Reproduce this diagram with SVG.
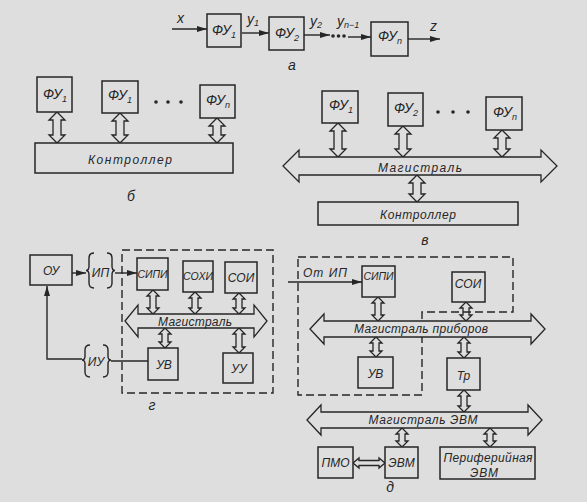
<svg xmlns="http://www.w3.org/2000/svg" width="587" height="502" viewBox="0 0 587 502">
<style>
.bg{fill:#dedede}
.box{fill:#dedede;stroke:#262626;stroke-width:1.5}
.dbl{fill:#dedede;stroke:#262626;stroke-width:1.3;stroke-linejoin:miter}
.ln{fill:none;stroke:#262626;stroke-width:1.4}
.dash{fill:none;stroke:#262626;stroke-width:1.4;stroke-dasharray:8 4}
text{font-family:"Liberation Sans",Arial,sans-serif;font-style:italic;fill:#262626;font-size:12px}
.c{text-anchor:middle}
.fu{font-size:14px}
.lab{font-size:14px}
.sm{font-size:10.5px}
</style>
<defs>
<marker id="ah" viewBox="0 0 10 6" refX="10" refY="3" markerWidth="10" markerHeight="6" markerUnits="userSpaceOnUse" orient="auto">
<path d="M0,0 L10,3 L0,6 Z" fill="#262626"/>
</marker>
</defs>
<rect class="bg" x="0" y="0" width="587" height="502"/>

<g id="connectors">
<!-- part a -->
<line class="ln" x1="172" y1="29" x2="207" y2="29" marker-end="url(#ah)"/>
<line class="ln" x1="242" y1="33" x2="269" y2="33" marker-end="url(#ah)"/>
<line class="ln" x1="304" y1="35" x2="330" y2="35" marker-end="url(#ah)"/>
<line class="ln" x1="348" y1="37" x2="371" y2="37" marker-end="url(#ah)"/>
<line class="ln" x1="408" y1="39" x2="440" y2="39" marker-end="url(#ah)"/>
<!-- part b -->
<path class="dbl" d="M57,112 L65,120 L61,120 L61,135 L65,135 L57,143 L49,135 L53,135 L53,120 L49,120 Z"/>
<path class="dbl" d="M120,113 L128,121 L124,121 L124,135 L128,135 L120,143 L112,135 L116,135 L116,121 L112,121 Z"/>
<path class="dbl" d="M217,118 L225,126 L221,126 L221,135 L225,135 L217,143 L209,135 L213,135 L213,126 L209,126 Z"/>
<!-- part v -->
<path class="dbl" d="M338,123 L346,131 L342,131 L342,149 L346,149 L338,157 L330,149 L334,149 L334,131 L330,131 Z"/>
<path class="dbl" d="M403,126 L411,134 L407,134 L407,149 L411,149 L403,157 L395,149 L399,149 L399,134 L395,134 Z"/>
<path class="dbl" d="M502,130 L510,138 L506,138 L506,149 L510,149 L502,157 L494,149 L498,149 L498,138 L494,138 Z"/>
<path class="dbl" d="M417,175 L425,183 L421,183 L421,194 L425,194 L417,202 L409,194 L413,194 L413,183 L409,183 Z"/>
<!-- part g -->
<line class="ln" x1="72" y1="273" x2="86" y2="273" marker-end="url(#ah)"/>
<line class="ln" x1="115" y1="273" x2="137" y2="273" marker-end="url(#ah)"/>
<path class="ln" d="M94,253 Q89,253 89,258 L89,266 Q89,270.5 86,270.5 Q89,270.5 89,275 L89,283 Q89,288 94,288"/>
<path class="ln" d="M107,253 Q112,253 112,258 L112,266 Q112,270.5 115,270.5 Q112,270.5 112,275 L112,283 Q112,288 107,288"/>
<path class="ln" d="M90,345 Q85,345 85,350 L85,356 Q85,360 82,360 Q85,360 85,364 L85,372 Q85,377 90,377"/>
<path class="ln" d="M103,345 Q108,345 108,350 L108,356 Q108,360 111,360 Q108,360 108,364 L108,372 Q108,377 103,377"/>
<line class="ln" x1="148" y1="361" x2="111" y2="361"/>
<polyline class="ln" points="82,359 47,359 47,286" marker-end="url(#ah)"/>
<path class="dbl" d="M153,290 L159,296 L156,296 L156,308 L159,308 L153,314 L147,308 L150,308 L150,296 L147,296 Z"/>
<path class="dbl" d="M195,292 L201,298 L198,298 L198,308 L201,308 L195,314 L189,308 L192,308 L192,298 L189,298 Z"/>
<path class="dbl" d="M239,293 L245,299 L242,299 L242,308 L245,308 L239,314 L233,308 L236,308 L236,299 L233,299 Z"/>
<path class="dbl" d="M165,328 L171,334 L168,334 L168,342 L171,342 L165,348 L159,342 L162,342 L162,334 L159,334 Z"/>
<path class="dbl" d="M239,328 L245,334 L242,334 L242,347 L245,347 L239,353 L233,347 L236,347 L236,334 L233,334 Z"/>
<!-- part d -->
<line class="ln" x1="288" y1="282" x2="362" y2="282" marker-end="url(#ah)"/>
<path class="dbl" d="M378,297 L384,303 L381,303 L381,315 L384,315 L378,321 L372,315 L375,315 L375,303 L372,303 Z"/>
<path class="dbl" d="M466,302 L472,308 L469,308 L469,315 L472,315 L466,321 L460,315 L463,315 L463,308 L460,308 Z"/>
<path class="dbl" d="M376,337 L382,343 L379,343 L379,351 L382,351 L376,357 L370,351 L373,351 L373,343 L370,343 Z"/>
<path class="dbl" d="M464,337 L470,343 L467,343 L467,352 L470,352 L464,358 L458,352 L461,352 L461,343 L458,343 Z"/>
<path class="dbl" d="M464,390 L470,396 L467,396 L467,406 L470,406 L464,412 L458,406 L461,406 L461,396 L458,396 Z"/>
<path class="dbl" d="M402,428 L408,434 L405,434 L405,441 L408,441 L402,447 L396,441 L399,441 L399,434 L396,434 Z"/>
<path class="dbl" d="M490,428 L496,434 L493,434 L493,441 L496,441 L490,447 L484,441 L487,441 L487,434 L484,434 Z"/>
<path class="dbl" d="M353,463 L359,458 L359,460.5 L379,460.5 L379,458 L385,463 L379,468 L379,465.5 L359,465.5 L359,468 Z"/>
</g>

<!-- part a -->
<g id="a-labels">
<text class="lab" x="177" y="23">x</text>
<text class="lab" x="247" y="24">y<tspan font-size="9" dy="2">1</tspan></text>
<text class="lab" x="310" y="26">y<tspan font-size="9" dy="2">2</tspan></text>
<text class="lab" x="337" y="26">y<tspan font-size="9" dy="2">n−1</tspan></text>
<text class="lab" x="430" y="31">z</text>
<text class="lab c" x="292" y="70">а</text>
<g fill="#262626"><circle cx="333" cy="36" r="1.8"/><circle cx="338.5" cy="36" r="1.8"/><circle cx="344" cy="36" r="1.8"/></g>
</g>
<g id="a-fu1"><rect class="box" x="207" y="14" width="34" height="33"/><text class="fu c" x="224" y="35">ФУ<tspan font-size="9" dy="3">1</tspan></text></g>
<g id="a-fu2"><rect class="box" x="269" y="17" width="35" height="33"/><text class="fu c" x="287" y="38">ФУ<tspan font-size="9" dy="3">2</tspan></text></g>
<g id="a-fun"><rect class="box" x="371" y="22" width="37" height="34"/><text class="fu c" x="390" y="41">ФУ<tspan font-size="9" dy="3">n</tspan></text></g>

<!-- part b -->
<g id="b-fu1"><rect class="box" x="37" y="77" width="35" height="35"/><text class="fu c" x="55" y="99">ФУ<tspan font-size="9" dy="3">1</tspan></text></g>
<g id="b-fu1b"><rect class="box" x="102" y="81" width="36" height="32"/><text class="fu c" x="120" y="100">ФУ<tspan font-size="9" dy="3">1</tspan></text></g>
<g id="b-fun"><rect class="box" x="200" y="85" width="35" height="33"/><text class="fu c" x="218" y="105">ФУ<tspan font-size="9" dy="3">n</tspan></text></g>
<g fill="#262626"><circle cx="156" cy="102" r="1.8"/><circle cx="168" cy="102" r="1.8"/><circle cx="181" cy="102" r="1.8"/></g>
<g id="b-controller"><rect class="box" x="35" y="143" width="198" height="30"/><text class="c" x="130" y="164" font-size="15" textLength="84" lengthAdjust="spacing">Контроллер</text></g>
<text class="lab c" x="131" y="201">б</text>

<!-- part v -->
<g id="v-fu1"><rect class="box" x="322" y="91" width="36" height="32"/><text class="fu c" x="341" y="110">ФУ<tspan font-size="9" dy="3">1</tspan></text></g>
<g id="v-fu2"><rect class="box" x="388" y="93" width="35" height="33"/><text class="fu c" x="406" y="113">ФУ<tspan font-size="9" dy="3">2</tspan></text></g>
<g id="v-fun"><rect class="box" x="486" y="97" width="36" height="33"/><text class="fu c" x="505" y="117">ФУ<tspan font-size="9" dy="3">n</tspan></text></g>
<g fill="#262626"><circle cx="438" cy="112" r="1.8"/><circle cx="453" cy="112" r="1.8"/><circle cx="468" cy="112" r="1.8"/></g>
<g id="v-bus"><path class="dbl" d="M283,166 L299,150 L299,157 L541,157 L541,150 L557,166 L541,182 L541,175 L299,175 L299,182 Z"/><text class="c" x="420" y="172" font-size="15" textLength="84" lengthAdjust="spacing">Магистраль</text></g>
<g id="v-controller"><rect class="box" x="318" y="202" width="200" height="23"/><text class="c" x="418" y="219" font-size="14" textLength="76" lengthAdjust="spacing">Контроллер</text></g>
<text class="lab c" x="425" y="245">в</text>

<!-- part g -->
<g id="g-ou"><rect class="box" x="30" y="255" width="42" height="30"/><text class="c" x="51" y="275" font-size="13">ОУ</text></g>
<g id="g-ip"><text class="c" x="100.5" y="277">ИП</text></g>
<g id="g-iu"><text class="c" x="96" y="366">ИУ</text></g>
<rect class="dash" x="122" y="250" width="151" height="143"/>
<g id="g-sipi"><rect class="box" x="137" y="258" width="31" height="32"/><text class="c sm" x="152.5" y="278">СИПИ</text></g>
<g id="g-sohi"><rect class="box" x="183" y="261" width="30" height="31"/><text class="c sm" x="198" y="280">СОХИ</text></g>
<g id="g-soi"><rect class="box" x="225" y="262" width="32" height="31"/><text class="c" x="241" y="282" font-size="11.5">СОИ</text></g>
<g id="g-bus"><path class="dbl" d="M125,321 L138,305 L138,314 L254,314 L254,305 L267,321 L254,337 L254,328 L138,328 L138,337 Z"/><text class="c" x="195" y="326" font-size="13" textLength="74" lengthAdjust="spacing">Магистраль</text></g>
<g id="g-uv"><rect class="box" x="148" y="348" width="30" height="32"/><text class="c" x="164" y="369" font-size="13">УВ</text></g>
<g id="g-uu"><rect class="box" x="223" y="353" width="30" height="30"/><text class="c" x="239" y="373" font-size="13">УУ</text></g>
<text class="lab c" x="152" y="410">г</text>

<!-- part d -->
<polygon class="dash" points="298,257 513,257 513,312 422,312 422,395 298,395"/>
<text x="303" y="277" font-size="13" textLength="44" lengthAdjust="spacing">От ИП</text>
<g id="d-sipi"><rect class="box" x="362" y="266" width="33" height="31"/><text class="c sm" x="378.5" y="280">СИПИ</text></g>
<g id="d-soi"><rect class="box" x="452" y="272" width="33" height="30"/><text class="c" x="468" y="288" font-size="11.5">СОИ</text></g>
<g id="d-bus"><path class="dbl" d="M310,329 L324,314 L324,321 L531,321 L531,314 L545,329 L531,344 L531,337 L324,337 L324,344 Z"/><text class="c" x="421" y="333" font-size="13" textLength="134" lengthAdjust="spacing">Магистраль приборов</text></g>
<g id="d-uv"><rect class="box" x="358" y="357" width="35" height="31"/><text class="c" x="375.5" y="378" font-size="13">УВ</text></g>
<g id="d-tr"><rect class="box" x="447" y="358" width="33" height="32"/><text class="c" x="463.5" y="380" font-size="14">Тр</text></g>
<g id="d-busevm"><path class="dbl" d="M307,420 L321,405 L321,412 L528,412 L528,405 L542,420 L528,435 L528,428 L321,428 L321,435 Z"/><text class="c" x="423" y="424" font-size="13" textLength="109" lengthAdjust="spacing">Магистраль ЭВМ</text></g>
<g id="d-pmo"><rect class="box" x="318" y="447" width="35" height="31"/><text class="c" x="335.5" y="467">ПМО</text></g>
<g id="d-evm"><rect class="box" x="385" y="447" width="33" height="31"/><text class="c" x="401.5" y="467">ЭВМ</text></g>
<g id="d-periph"><rect class="box" x="440" y="447" width="95" height="32"/><text class="c" x="488" y="462" font-size="13" textLength="89" lengthAdjust="spacing">Периферийная</text><text class="c" x="484" y="477" font-size="13" textLength="28" lengthAdjust="spacing">ЭВМ</text></g>
<text class="lab c" x="390" y="492">д</text>
</svg>
